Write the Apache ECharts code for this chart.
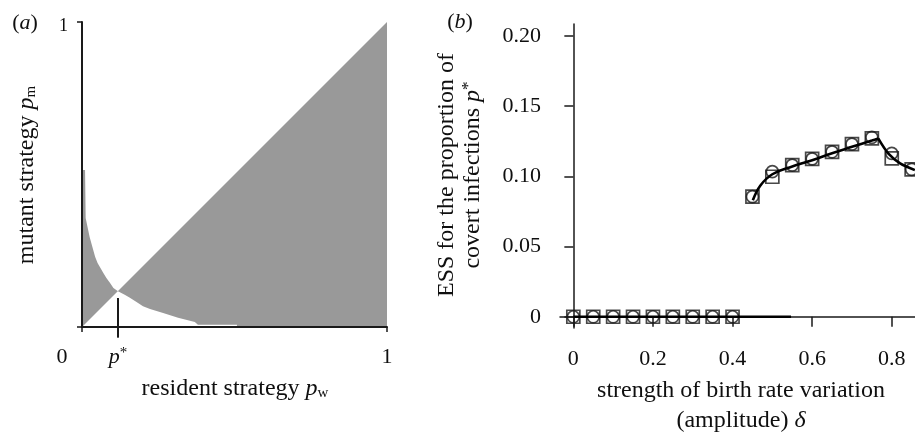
<!DOCTYPE html>
<html><head><meta charset="utf-8">
<script src="https://cdn.jsdelivr.net/npm/echarts@6/dist/echarts.min.js"></script>
<style>html,body{margin:0;padding:0;background:#fff}#c{width:915px;height:434px}</style>
</head><body><div id="c"></div>
<script>
// ---------- Panel (a): pairwise invasibility plot ----------
// boundary of the grey region (resident p_w, mutant p_m);
// the polygon closes back to (0,0) along the diagonal p_m = p_w
const boundaryPw = [0, 0, 0.01, 0.012, 0.025, 0.035, 0.043, 0.051, 0.061, 0.07, 0.08, 0.092, 0.103, 0.118, 0.14, 0.157, 0.18, 0.2, 0.223, 0.266, 0.315, 0.37, 0.38, 0.508, 0.508, 1, 1];
const boundaryPm = [0, 0.515, 0.515, 0.357, 0.295, 0.259, 0.23, 0.21, 0.193, 0.177, 0.161, 0.144, 0.128, 0.117, 0.106, 0.096, 0.081, 0.068, 0.059, 0.046, 0.03, 0.016, 0.007, 0.007, 0, 0, 1];
const pStar = 0.118;
const pStarLinePm = [0.095, -0.035];
const aTicksX = [0, pStar, 1];
const aTicksY = [0, 1];
const aLabelsY = [1];

// ---------- Panel (b): ESS vs amplitude ----------
const deltaMarks = [0, 0.05, 0.1, 0.15, 0.2, 0.25, 0.3, 0.35, 0.4, 0.45, 0.5, 0.55, 0.6, 0.65, 0.7, 0.75, 0.8, 0.85];
const essSquare = [0, 0, 0, 0, 0, 0, 0, 0, 0, 0.0855, 0.0997, 0.108, 0.1125, 0.1175, 0.123, 0.127, 0.1128, 0.105];
const essCircle = [0, 0, 0, 0, 0, 0, 0, 0, 0, 0.0855, 0.1033, 0.108, 0.1125, 0.1175, 0.123, 0.1278, 0.1164, 0.105];
const zeroLineDelta = [0, 0.547];
const zeroLineEss = [0, 0];
const riseDelta = [0.451, 0.47, 0.5, 0.55, 0.6, 0.65, 0.7, 0.75, 0.766];
const riseEss = [0.083, 0.0935, 0.1015, 0.107, 0.1115, 0.1165, 0.121, 0.1255, 0.127];
const fallDelta = [0.766, 0.791, 0.821, 0.858];
const fallEss = [0.127, 0.1164, 0.1093, 0.1045];
const bTicksX = [0, 0.2, 0.4, 0.6, 0.8];
const bTicksY = [0, 0.05, 0.1, 0.15, 0.2];

const FONT = "'Liberation Serif','Times New Roman','DejaVu Serif',serif";
const INK = '#0f0f0f';
const AX = '#1a1a1a';
const zip = (a, b) => a.map((v, i) => [v, b[i]]);

function rich(size) {
  return {
    n: {fontFamily: FONT, fontSize: size, color: INK, fill: INK},
    i: {fontFamily: FONT, fontSize: size, fontStyle: 'italic', color: INK, fill: INK},
    sub: {fontFamily: FONT, fontSize: Math.round(size * 0.62), color: INK, fill: INK, verticalAlign: 'bottom', lineHeight: 9},
    sup: {fontFamily: FONT, fontSize: Math.round(size * 0.7), color: INK, fill: INK, verticalAlign: 'top', lineHeight: 12},
    z: {fontFamily: FONT, fontSize: size, color: INK, fill: INK, padding: [0, 40, 0, 0]},
    t: {fontFamily: FONT, fontSize: 18, color: INK, fill: INK, padding: [9, 0, 0, 0]}
  };
}

function gText(x, y, text, size, opts) {
  opts = opts || {};
  return {
    type: 'text', x: x, y: y, rotation: opts.rot || 0, z: 100,
    style: {
      text: text, fontFamily: FONT, fontSize: size, fill: INK,
      align: 'center', verticalAlign: 'middle', textAlign: 'center', textVerticalAlign: 'middle',
      lineHeight: opts.lh || size, rich: rich(size)
    }
  };
}

const chart = echarts.init(document.getElementById('c'), null, {renderer: 'canvas'});
chart.setOption({
  animation: false,
  backgroundColor: '#fff',
  grid: [
    {left: 82, top: 22, width: 305, height: 305},
    {left: 560, top: 24, width: 355, height: 304}
  ],
  xAxis: [
    {
      type: 'value', gridIndex: 0, min: 0, max: 1, z: 10,
      axisLine: {lineStyle: {color: AX, width: 2}},
      splitLine: {show: false},
      axisTick: {customValues: [0, 1], length: 5, lineStyle: {color: AX, width: 1.5}},
      axisLabel: {
        customValues: aTicksX, margin: 19, fontFamily: FONT, fontSize: 22, color: INK,
        formatter: v => v === 0 ? '{z|0}' : (Math.abs(v - pStar) < 1e-9 ? '{i|p}{sup|*}' : '{n|1}'),
        rich: rich(22)
      }
    },
    {
      type: 'value', gridIndex: 1, min: -0.0335, max: 0.8584,
      axisLine: {lineStyle: {color: AX, width: 1.5}},
      splitLine: {show: false},
      axisTick: {customValues: bTicksX, length: 10, lineStyle: {color: AX, width: 1.5}},
      axisLabel: {
        customValues: bTicksX, margin: 20, fontFamily: FONT, fontSize: 22, color: INK,
        formatter: v => v === 0 ? '0' : v.toFixed(1)
      }
    }
  ],
  yAxis: [
    {
      type: 'value', gridIndex: 0, min: 0, max: 1, z: 10,
      axisLine: {lineStyle: {color: AX, width: 2}},
      splitLine: {show: false},
      axisTick: {customValues: aTicksY, length: 5, lineStyle: {color: AX, width: 1.5}},
      axisLabel: {
        customValues: aLabelsY, margin: 14, fontFamily: FONT, fontSize: 18, color: INK,
        formatter: v => '{t|' + v + '}', rich: rich(18)
      }
    },
    {
      type: 'value', gridIndex: 1, min: -0.008, max: 0.2085,
      axisLine: {lineStyle: {color: AX, width: 1.5}},
      splitLine: {show: false},
      axisTick: {customValues: bTicksY, length: 9, lineStyle: {color: AX, width: 1.5}},
      axisLabel: {
        customValues: bTicksY, margin: 19, fontFamily: FONT, fontSize: 22, color: INK,
        formatter: v => v === 0 ? '0' : v.toFixed(2)
      }
    }
  ],
  series: [
    {
      type: 'custom', xAxisIndex: 0, yAxisIndex: 0, z: 2,
      data: zip(boundaryPw, boundaryPm),
      encode: {x: 0, y: 1},
      renderItem: (params, api) => {
        if (params.dataIndex !== 0) return null;
        const pts = boundaryPw.map((x, i) => api.coord([x, boundaryPm[i]]));
        return {type: 'polygon', shape: {points: pts}, style: {fill: '#999999', stroke: null}};
      }
    },
    {
      type: 'line', xAxisIndex: 0, yAxisIndex: 0, z: 12, clip: false,
      data: pStarLinePm.map(v => [pStar, v]),
      symbol: 'none', lineStyle: {color: AX, width: 2}
    },
    {
      type: 'scatter', xAxisIndex: 1, yAxisIndex: 1, z: 3, clip: false,
      data: zip(deltaMarks, essSquare), symbol: 'rect', symbolSize: 13,
      itemStyle: {color: 'rgba(0,0,0,0)', borderColor: '#1a1a1a', borderWidth: 1.7}
    },
    {
      type: 'scatter', xAxisIndex: 1, yAxisIndex: 1, z: 3, clip: false,
      data: zip(deltaMarks, essCircle), symbol: 'circle', symbolSize: 12,
      itemStyle: {color: 'rgba(0,0,0,0)', borderColor: '#1a1a1a', borderWidth: 1.7}
    },
    {
      type: 'line', xAxisIndex: 1, yAxisIndex: 1, z: 4,
      data: zip(zeroLineDelta, zeroLineEss), symbol: 'none',
      lineStyle: {color: '#000', width: 2.6}
    },
    {
      type: 'line', xAxisIndex: 1, yAxisIndex: 1, z: 4, smooth: 0.4,
      data: zip(riseDelta, riseEss), symbol: 'none',
      lineStyle: {color: '#000', width: 2.6}
    },
    {
      type: 'line', xAxisIndex: 1, yAxisIndex: 1, z: 4, smooth: 0.3, clip: false,
      data: zip(fallDelta, fallEss), symbol: 'none',
      lineStyle: {color: '#000', width: 2.6}
    }
  ],
  graphic: [
    gText(25, 23, '({i|a})', 22),
    gText(460, 22, '({i|b})', 22),
    gText(235, 389, 'resident strategy {i|p}{sub|w}', 24),
    gText(27, 175, 'mutant strategy {i|p}{sub|m}', 24, {rot: Math.PI / 2}),
    gText(741, 406, 'strength of birth rate variation\n(amplitude) {i|δ}', 24, {lh: 30}),
    gText(460, 175, 'ESS for the proportion of\ncovert infections {i|p}{sup|*}', 24, {rot: Math.PI / 2, lh: 26})
  ]
});
</script></body></html>
